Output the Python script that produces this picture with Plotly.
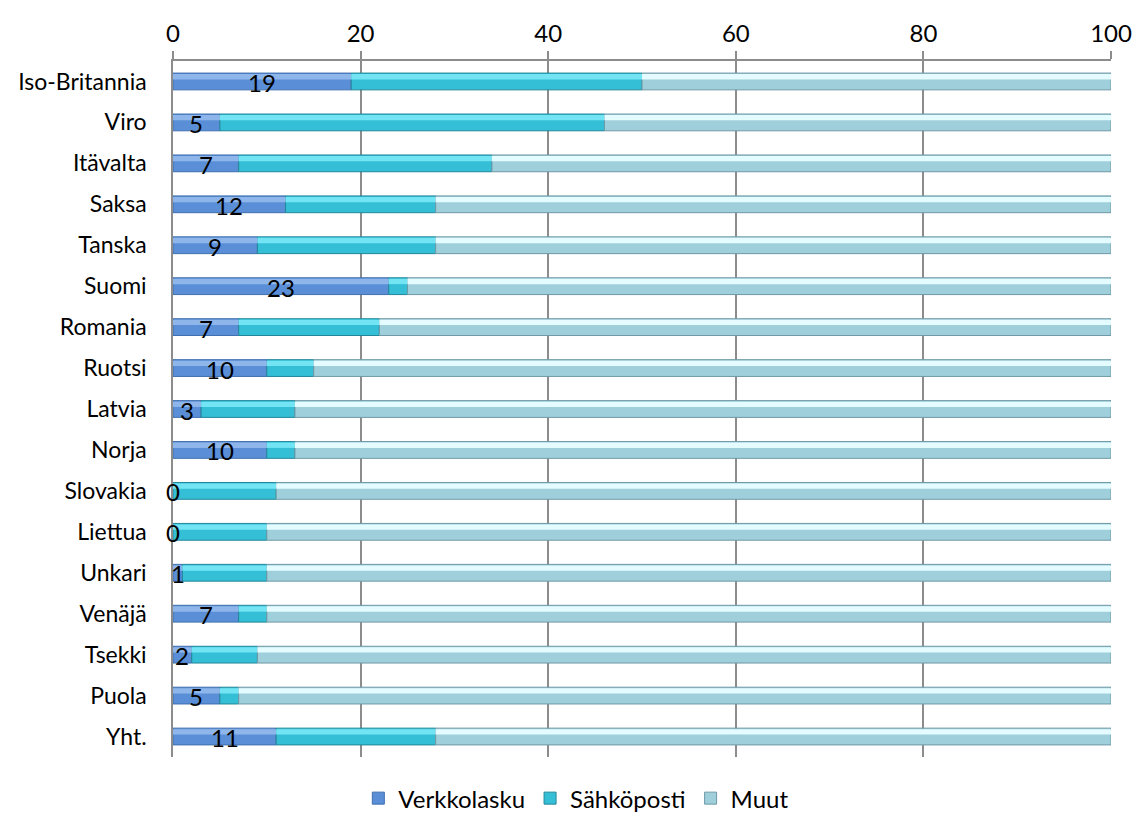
import plotly.graph_objects as go

countries = ["Iso-Britannia", "Viro", "Itävalta", "Saksa", "Tanska", "Suomi", "Romania",
             "Ruotsi", "Latvia", "Norja", "Slovakia", "Liettua", "Unkari", "Venäjä",
             "Tsekki", "Puola", "Yht."]
verkkolasku = [19, 5, 7, 12, 9, 23, 7, 10, 3, 10, 0, 0, 1, 7, 2, 5, 11]
sahkoposti = [31, 41, 27, 16, 19, 2, 15, 5, 10, 3, 11, 10, 9, 3, 7, 2, 17]
muut = [50, 54, 66, 72, 72, 75, 78, 85, 87, 87, 89, 90, 90, 90, 91, 93, 72]

FONT = "Lato, Calibri, Arial, sans-serif"
W = 0.41

fig = go.Figure()
series = [
    ("Verkkolasku", verkkolasku, "#5a8fd8", "#3f6fae"),
    ("Sähköposti", sahkoposti, "#35bfd6", "#22879a"),
    ("Muut", muut, "#9fcfdb", "#6f99a6"),
]
bases = []
cum = [0] * len(countries)
for name, vals, col, edge in series:
    bases.append(list(cum))
    cum = [c + v for c, v in zip(cum, vals)]

for (name, vals, col, edge), b in zip(series, bases):
    fig.add_trace(go.Bar(
        name=name, y=countries, x=vals, base=b, orientation="h", width=W,
        marker=dict(color=col, line=dict(color=edge, width=1)),
        hoverinfo="x+y+name",
    ))

# highlight overlays (upper part of each bar lighter) to mimic bevel
hl = ["#8fb6ea", "#72e4f3", "#e4fbff"]
for (name, vals, col, edge), b, h in zip(series, bases, hl):
    fig.add_trace(go.Bar(
        y=countries, x=vals, base=b, orientation="h", width=0.13, offset=-0.18,
        marker=dict(color=h, line=dict(width=0)), showlegend=False, hoverinfo="skip",
    ))

# data labels for Verkkolasku (centred in the segment)
for c, v in zip(countries, verkkolasku):
    fig.add_annotation(x=v / 2, y=c, text=str(v), showarrow=False, yshift=-1,
                       font=dict(family=FONT, size=24, color="black"))

fig.update_layout(
    barmode="overlay",
    width=1135, height=819,
    margin=dict(l=173, r=24, t=61, b=62, autoexpand=False),
    plot_bgcolor="white", paper_bgcolor="white",
    font=dict(family=FONT, size=23, color="black"),
    xaxis=dict(side="top", range=[0, 100], dtick=20, showgrid=True,
               gridcolor="#8c8c8c", gridwidth=1.5, zeroline=False,
               showline=True, linecolor="#8c8c8c", linewidth=1.5,
               ticks="outside", ticklen=8, tickcolor="#8c8c8c", tickwidth=1.5,
               tickfont=dict(size=24), automargin=False),
    yaxis=dict(autorange="reversed", showgrid=False, showline=True,
               linecolor="#8c8c8c", linewidth=1.5, ticks="", ticklabelstandoff=20,
               tickfont=dict(size=23), automargin=False),
    legend=dict(orientation="h", x=0.43, xanchor="center", xref="paper",
                y=0.025, yref="container", yanchor="middle",
                font=dict(size=24), traceorder="normal"),
    showlegend=True,
)

fig.write_html("out.html")
